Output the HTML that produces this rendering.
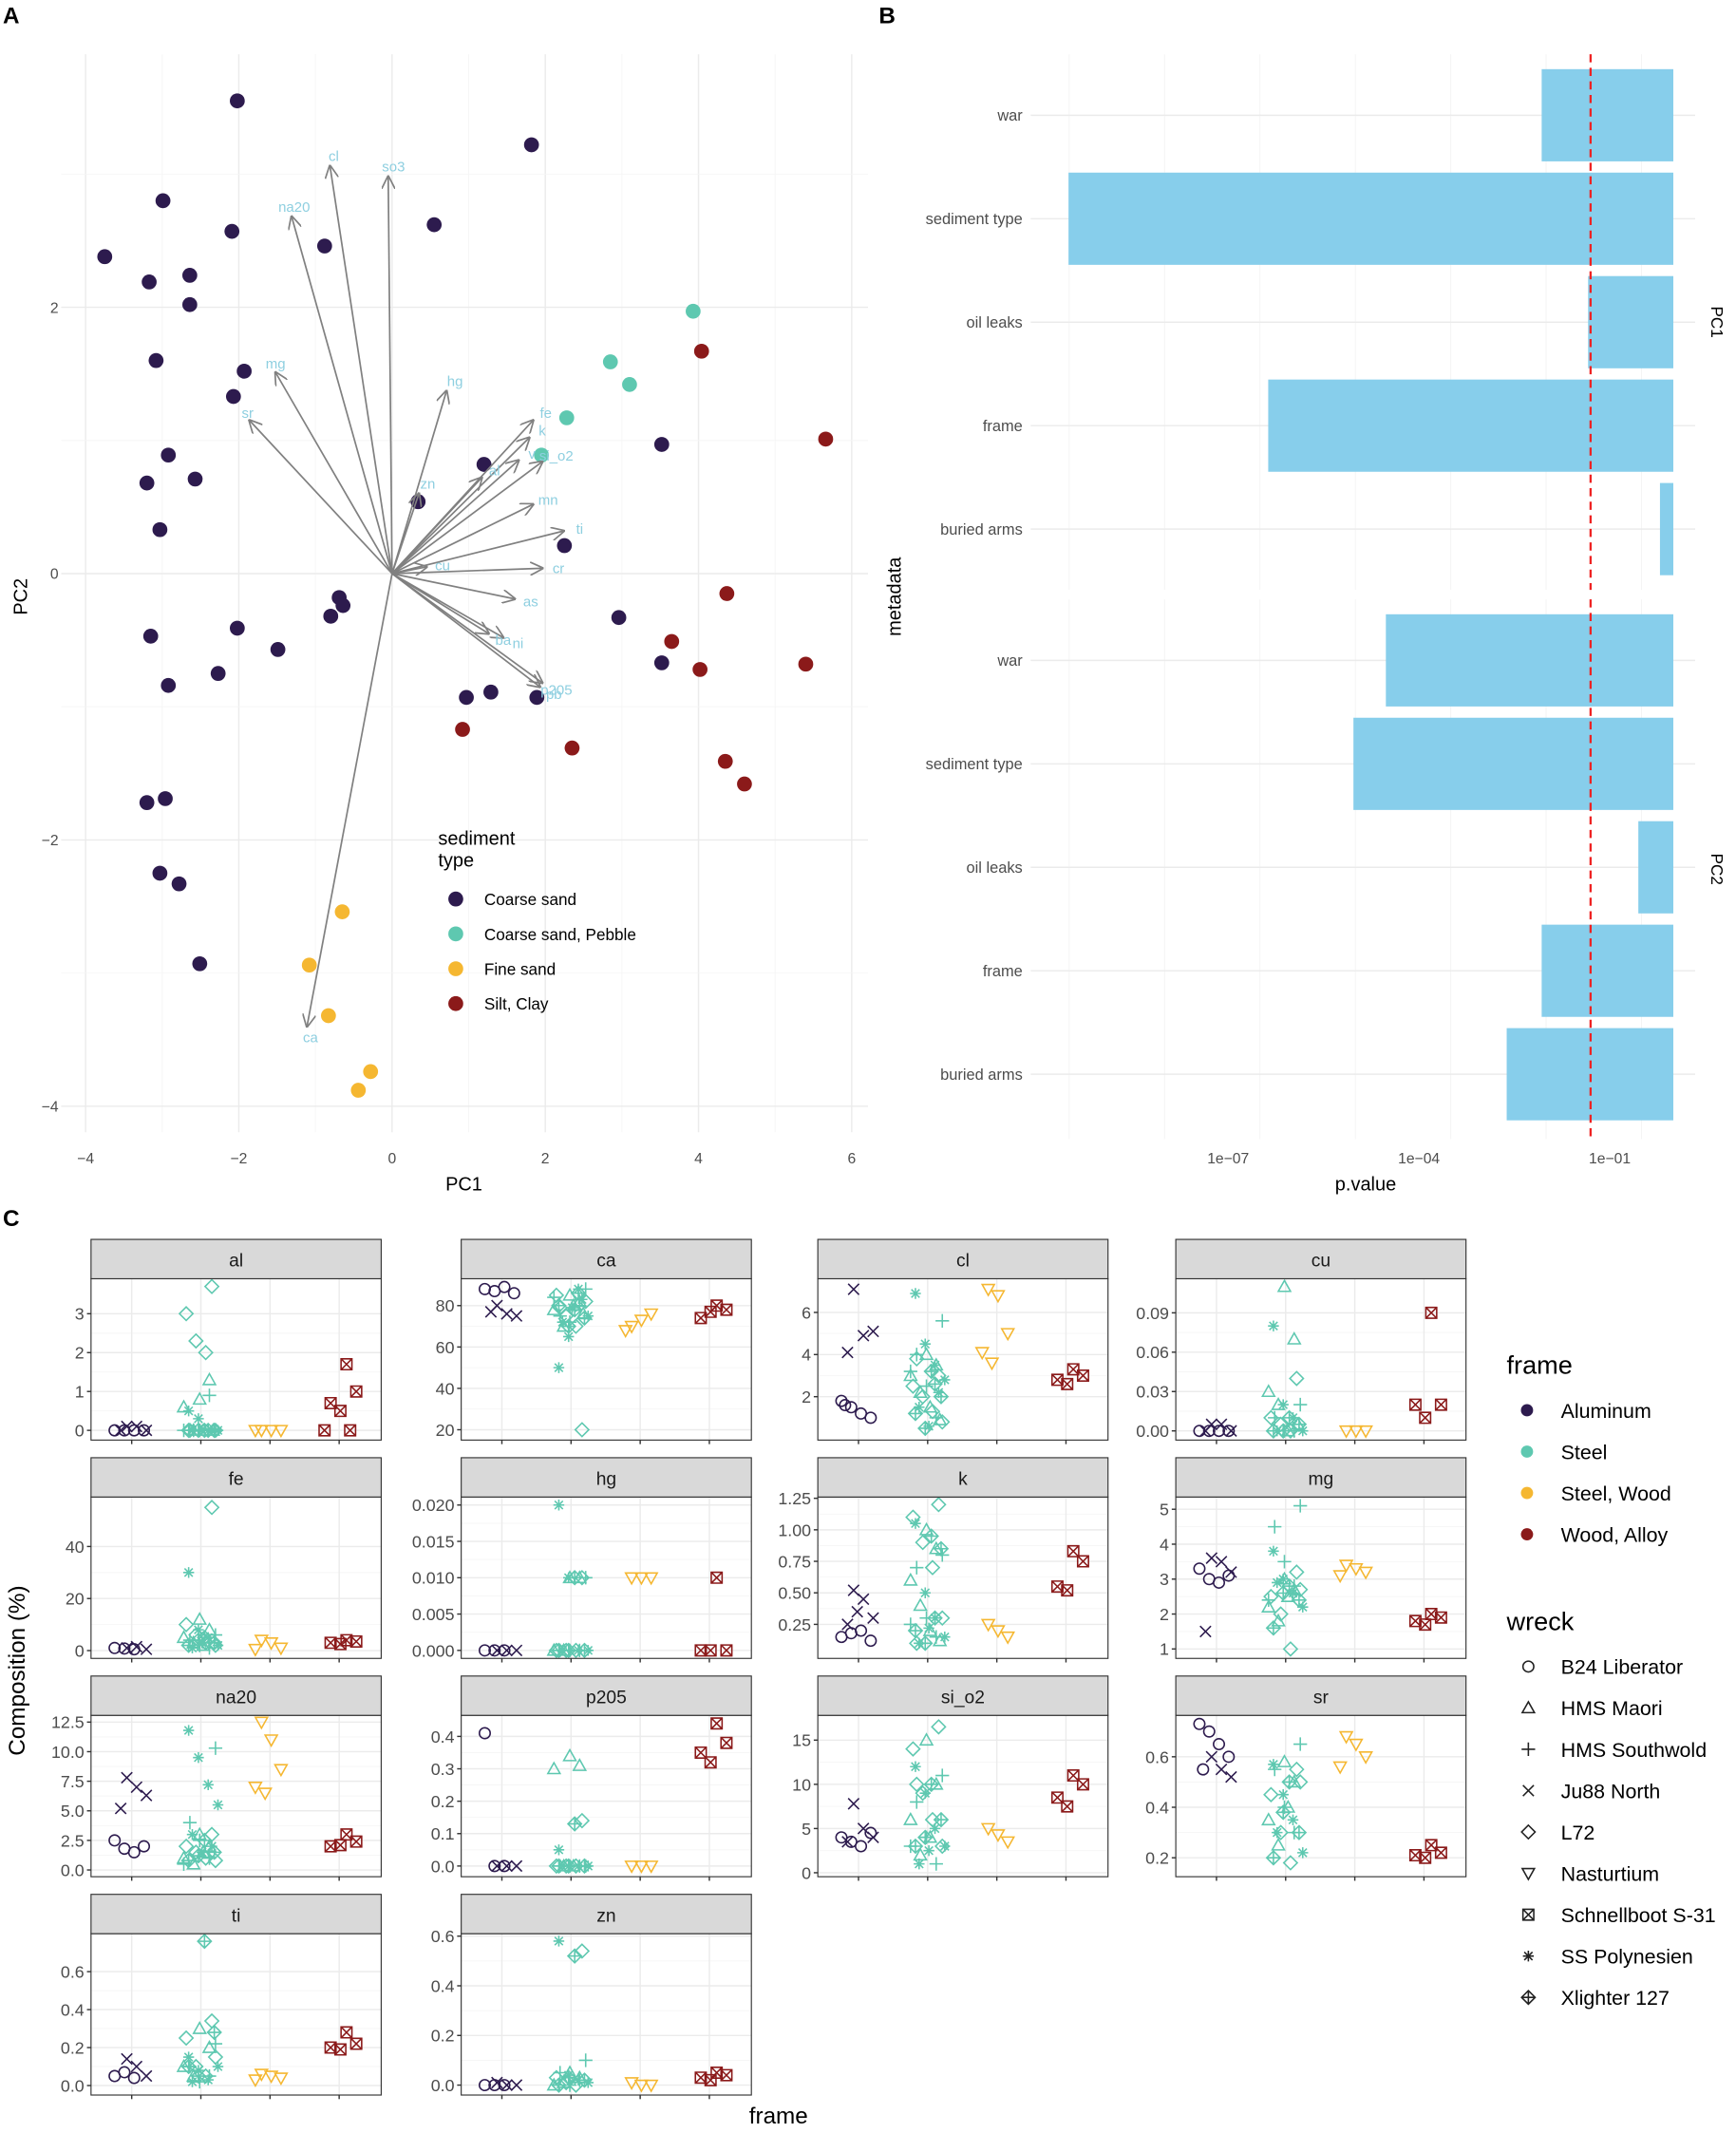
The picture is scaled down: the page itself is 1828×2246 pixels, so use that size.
<!DOCTYPE html>
<html><head><meta charset="utf-8"><style>
html,body{margin:0;padding:0;background:#fff;}
svg{display:block;font-family:"Liberation Sans",sans-serif;}
</style></head><body>
<svg id="fig" width="1828" height="2246" viewBox="0 0 1280 1573" xmlns="http://www.w3.org/2000/svg">
<g id="pA"></g>
<g id="pB"></g>
<g id="pC"></g>
</svg>
<script>
// ---------- Panel A data ----------
const sedimentTypes = ["Coarse sand","Coarse sand, Pebble","Fine sand","Silt, Clay"];
const sedColors = ["#2d1b4e","#5ec8b0","#f5b731","#8b1a1a"];
const pcaX0 = [-2.02,1.82,-2.99,-3.75,0.55,-2.09,-0.88,-3.17,-2.64,-2.64,-3.08,-1.93,-2.07,-2.92,-3.20,-2.57,-3.03,1.20,3.52,0.34,2.25,-0.69,-0.64,-0.80,-2.02,-3.15,-1.49,-2.27,-2.92,2.96,3.52,0.97,1.29,1.89,-3.20,-2.96,-3.03,-2.78,-2.51];
const pcaY0 = [3.55,3.22,2.80,2.38,2.62,2.57,2.46,2.19,2.24,2.02,1.60,1.52,1.33,0.89,0.68,0.71,0.33,0.82,0.97,0.54,0.21,-0.18,-0.24,-0.32,-0.41,-0.47,-0.57,-0.75,-0.84,-0.33,-0.67,-0.93,-0.89,-0.93,-1.72,-1.69,-2.25,-2.33,-2.93];
const pcaX1 = [3.93,2.85,3.10,2.28,1.95];
const pcaY1 = [1.97,1.59,1.42,1.17,0.89];
const pcaX2 = [-0.65,-1.08,-0.83,-0.28,-0.44];
const pcaY2 = [-2.54,-2.94,-3.32,-3.74,-3.88];
const pcaX3 = [4.04,5.66,4.37,3.65,4.02,5.40,0.92,2.35,4.35,4.60];
const pcaY3 = [1.67,1.01,-0.15,-0.51,-0.72,-0.68,-1.17,-1.31,-1.41,-1.58];
const loadNames = ["cl","so3","na20","mg","sr","hg","fe","k","si_o2","zn","al","v","mn","ti","cr","as","ni","ba","p205","pb","ca","cu"];
const loadX = [-0.81,-0.05,-1.31,-1.52,-1.86,0.71,1.84,1.79,1.96,0.35,1.17,1.65,1.84,2.24,1.96,1.60,1.45,1.26,1.96,1.93,-1.11,0.45];
const loadY = [3.06,2.98,2.68,1.51,1.15,1.37,1.15,1.02,0.84,0.60,0.72,0.85,0.52,0.32,0.04,-0.19,-0.48,-0.45,-0.82,-0.85,-3.40,0.05];
const pcaTicksX = [-4,-2,0,2,4,6];
const pcaTicksY = [-4,-2,0,2];

// ---------- Panel B data ----------
const metaCats = ["war","sediment type","oil leaks","frame","buried arms"];
const pc1LogP = [-2.07,-9.51,-1.34,-6.37,-0.21];
const pc2LogP = [-4.52,-5.03,-0.55,-2.07,-2.62];
const pTickVals = [-7,-4,-1];
const pTickLabels = ["1e\u221207","1e\u221204","1e\u221201"];
const alphaLog = -1.301;

// ---------- Panel C data ----------
const frames = ["Aluminum","Steel","Steel, Wood","Wood, Alloy"];
const frameColors = ["#2d1b4e","#5ec8b0","#f5b731","#8b1a1a"];
const wrecks = ["B24 Liberator","HMS Maori","HMS Southwold","Ju88 North","L72","Nasturtium","Schnellboot S-31","SS Polynesien","Xlighter 127"];
const wreckFrame = [0,1,1,0,1,2,3,1,1];
const wreckShape = ["circle","tri","plus","x","diamond","dtri","boxx","star","cplus"];
const elements = ["al","ca","cl","cu","fe","hg","k","mg","na20","p205","si_o2","sr","ti","zn"];
const elemMin = [-0.25,15,-0.06,-0.007,-3,-0.0011,-0.02,0.73,-0.57,-0.033,-0.45,0.125,-0.05,-0.04];
const elemMax = [3.9,93,7.6,0.116,59,0.0211,1.26,5.35,13.07,0.465,17.8,0.764,0.8,0.61];
const elemTicks = [[0,1,2,3],[20,40,60,80],[2,4,6],[0,0.03,0.06,0.09],[0,20,40],[0,0.005,0.01,0.015,0.02],[0.25,0.5,0.75,1,1.25],[1,2,3,4,5],[0,2.5,5,7.5,10,12.5],[0,0.1,0.2,0.3,0.4],[0,5,10,15],[0.2,0.4,0.6],[0,0.2,0.4,0.6],[0,0.2,0.4,0.6]];
const elemTickLabels = [["0","1","2","3"],["20","40","60","80"],["2","4","6"],["0.00","0.03","0.06","0.09"],["0","20","40"],["0.000","0.005","0.010","0.015","0.020"],["0.25","0.50","0.75","1.00","1.25"],["1","2","3","4","5"],["0.0","2.5","5.0","7.5","10.0","12.5"],["0.0","0.1","0.2","0.3","0.4"],["0","5","10","15"],["0.2","0.4","0.6"],["0.0","0.2","0.4","0.6"],["0.0","0.2","0.4","0.6"]];
const comp_al = [[0,0,0,0],[0.8,1.3,0.6,0,0,0],[0,0,0,0.9,0,0],[0.1,0.1,0,0],[3.7,3.0,2.3,2.0,0,0],[0,0,0,0],[1.7,1.0,0.7,0.5,0,0],[0.5,0.3,0,0,0,0,0],[0,0,0,0,0]];
const comp_ca = [[88,87,89,86],[85,82,78,70,80,76],[88,75,72,80,84],[80,76,75,77],[20,85,75,70,82,79],[70,73,76,68],[80,78,74,77],[50,65,88,75,72,79,83],[78,74,80,70,86]];
const comp_cl = [[1.8,1.5,1.2,1.0,1.6],[4.0,3.5,3.0,2.2,1.5,0.9],[5.6,4.0,2.5,1.0,3.2],[7.1,4.9,5.1,4.1],[3.0,2.5,2.0,1.3,0.8,3.8],[7.1,6.8,5.0,4.1,3.6],[3.3,3.0,2.8,2.6],[6.9,4.5,3.5,2.8,1.5,0.6,2.2],[3.2,2.0,1.2,0.5,2.6]];
const comp_cu = [[0,0,0,0],[0.11,0.07,0.03,0.02,0,0.005],[0.02,0.01,0,0],[0.005,0.005,0,0],[0.04,0.01,0.005,0],[0,0,0],[0.09,0.02,0.02,0.01],[0.08,0.02,0.01,0,0],[0.01,0.005,0,0]];
const comp_fe = [[1,0.8,0.5],[12,8,5,3,2],[6,4,2,1],[1,1.5,0.5],[55,10,6,3,2],[4,3,1,0.5],[4,3.5,3,2.5],[30,8,5,2,1,3],[5,3,2,4]];
const comp_hg = [[0,0,0],[0.01,0.01,0,0],[0.01,0,0,0],[0,0,0],[0.01,0,0,0],[0.01,0.01,0.01],[0.01,0,0,0],[0.02,0.01,0,0,0],[0.01,0,0,0]];
const comp_k = [[0.15,0.18,0.2,0.12],[1.0,0.85,0.6,0.4,0.2,0.12],[0.8,0.7,0.3,0.15,0.25],[0.52,0.45,0.3,0.25,0.35],[1.2,1.1,0.9,0.7,0.3,0.1],[0.25,0.2,0.15],[0.83,0.75,0.55,0.52],[1.05,0.5,0.3,0.15,0.1,0.22],[0.95,0.85,0.2,0.1,0.3]];
const comp_mg = [[3.3,3.0,2.9,3.1],[3.0,2.7,2.2,1.8,2.5],[5.1,4.5,3.5,2.8,2.4],[3.6,3.5,3.2,1.5],[3.2,2.5,2.0,1.0,2.7],[3.4,3.3,3.2,3.1],[2.0,1.9,1.8,1.7],[3.8,3.0,2.6,2.2,2.9],[2.8,2.4,1.6,2.6]];
const comp_na20 = [[2.5,1.8,1.5,2.0],[3,2,1,0.5,1.5],[10.3,4,2.5,1,0.5],[7.8,7.0,6.3,5.2],[3,2,1.5,1,0.8],[12.5,11,8.5,7,6.5],[3.0,2.4,2.0,2.1],[11.8,9.5,7.2,5.5,3,1.5,2],[2.5,1.5,0.8,1.2]];
const comp_p205 = [[0.41,0,0],[0.34,0.31,0.3,0,0],[0,0,0,0],[0,0,0],[0.14,0,0,0],[0,0,0],[0.44,0.38,0.35,0.32],[0.05,0,0,0],[0.13,0,0,0]];
const comp_si_o2 = [[4.0,3.5,3.0,4.5],[15,10,6,2,4],[11,8,4,1,3],[7.8,5.0,4.0,3.5],[16.5,14,9,6,3,10],[5,4.3,3.5],[11,10,8.5,7.5],[12,9,5,3,1,2.5],[10,6,3,4]];
const comp_sr = [[0.73,0.7,0.65,0.6,0.55],[0.58,0.5,0.35,0.25,0.4],[0.65,0.55,0.4,0.3],[0.6,0.55,0.52],[0.55,0.45,0.3,0.18,0.5],[0.68,0.65,0.6,0.56],[0.25,0.22,0.21,0.2],[0.57,0.45,0.35,0.22,0.3],[0.5,0.3,0.2,0.38]];
const comp_ti = [[0.05,0.07,0.04],[0.3,0.2,0.1,0.05],[0.22,0.1,0.02,0.05],[0.14,0.1,0.05],[0.34,0.25,0.1,0.05,0.15],[0.06,0.05,0.04,0.03],[0.28,0.22,0.2,0.19],[0.15,0.08,0.03,0.1,0.02],[0.76,0.28,0.1,0.05]];
const comp_zn = [[0,0,0],[0.05,0.03,0,0.01],[0.1,0.05,0,0.02],[0.01,0,0],[0.54,0.03,0.01,0],[0.01,0,0],[0.05,0.04,0.03,0.02],[0.58,0.04,0.02,0.01],[0.52,0.02,0,0.03]];
const compData = [comp_al,comp_ca,comp_cl,comp_cu,comp_fe,comp_hg,comp_k,comp_mg,comp_na20,comp_p205,comp_si_o2,comp_sr,comp_ti,comp_zn];

const NS="http://www.w3.org/2000/svg";
function mk(parent,tag,attrs,txt){const e=document.createElementNS(NS,tag);for(const k in attrs)e.setAttribute(k,attrs[k]);if(txt!==undefined)e.textContent=txt;parent.appendChild(e);return e;}

// ===== Panel A =====
(function(){
const g=document.getElementById('pA');
const xs=v=>289+v*56.5, ys=v=>423-v*98.2;
const L=45,R=640,T=40,B=835;
for(let v=-5;v<=7;v+=1){const x=xs(v);if(x<L||x>R)continue;const l=mk(g,'line',{x1:x,x2:x,y1:T,y2:B,stroke:v%2===0?'#ebebeb':'#f5f5f5','stroke-width':v%2===0?1:0.6});}
for(let v=-5;v<=4;v+=1){const y=ys(v);if(y<T||y>B)continue;const l=mk(g,'line',{x1:L,x2:R,y1:y,y2:y,stroke:v%2===0?'#ebebeb':'#f5f5f5','stroke-width':v%2===0?1:0.6});}
pcaTicksX.forEach(v=>{const t=mk(g,'text',{x:xs(v),y:858,'font-size':11,fill:'#4d4d4d','text-anchor':'middle'},String(v).replace('-','\u2212'));});
pcaTicksY.forEach(v=>{const t=mk(g,'text',{x:43,y:ys(v)+4,'font-size':11,fill:'#4d4d4d','text-anchor':'end'},String(v).replace('-','\u2212'));});
let t=mk(g,'text',{x:342,y:878,'font-size':14,'text-anchor':'middle'},'PC1');
t=mk(g,'text',{x:20,y:440,'font-size':14,'text-anchor':'middle',transform:'rotate(-90 20 440)'},'PC2');
const sets=[[pcaX0,pcaY0],[pcaX1,pcaY1],[pcaX2,pcaY2],[pcaX3,pcaY3]];
sets.forEach((s,k)=>s[0].forEach((x,i)=>{const c=mk(g,'circle',{cx:xs(x),cy:ys(s[1][i]),r:5.5,fill:sedColors[k]});}));
mk(g,'defs',{}).innerHTML='<marker id="ah" markerWidth="10" markerHeight="10" refX="9" refY="5" orient="auto" markerUnits="userSpaceOnUse"><path d="M0,0 L10,5 L0,10" fill="none" stroke="#808080" stroke-width="1.2"/></marker>';
loadNames.forEach((n,i)=>{const x2=xs(loadX[i]),y2=ys(loadY[i]);
const a=mk(g,'line',{x1:xs(0),y1:ys(0),x2:x2,y2:y2,stroke:'#808080','stroke-width':1.2,'marker-end':'url(#ah)'});
const dx=x2-xs(0),dy=y2-ys(0),d=Math.hypot(dx,dy)||1;
const lt=mk(g,'text',{x:x2+dx/d*8+4,y:y2+dy/d*8+4,'font-size':10.5,fill:'#8ecfe0','text-anchor':'middle'},n);});
t=mk(g,'text',{x:323,y:623,'font-size':14},'sediment');
mk(g,'text',{x:323,y:639,'font-size':14},'type');
sedimentTypes.forEach((s,i)=>{const y=663+i*25.7;const c=mk(g,'circle',{cx:336,cy:y,r:5.5,fill:sedColors[i]});
const tt=mk(g,'text',{x:357,y:y+4.5,'font-size':12},s);});
t=mk(g,'text',{x:2,y:17,'font-size':17,'font-weight':'bold'},'A');
})();

// ===== Panel B =====
(function(){
const g=document.getElementById('pB');
const xs=v=>1187+(v+1)*46.9;
const L=760,R=1250;
const panels=[[40,435,pc1LogP,'PC1'],[442,840,pc2LogP,'PC2']];
panels.forEach((p,pi)=>{
 const [T,B,vals,lab]=p;
 for(let v=-11;v<=0;v+=1.5){const x=xs(v);if(x<L-2||x>R)continue;const major=Math.abs((v+1)%3)<0.01;const l=mk(g,'line',{x1:x,x2:x,y1:T,y2:B,stroke:major?'#ebebeb':'#f3f3f3','stroke-width':major?1:0.6});}
 metaCats.forEach((c,i)=>{const y=T+45+i*76.3;
  const l=mk(g,'line',{x1:L,x2:R,y1:y,y2:y,stroke:'#ebebeb'});
  const x0=xs(vals[i]),x1=xs(0);
  const r=mk(g,'rect',{x:x0,y:y-34,width:x1-x0,height:68,fill:'#87ceeb'});
  const tt=mk(g,'text',{x:754,y:y+4,'font-size':11.5,fill:'#4d4d4d','text-anchor':'end'},c);
 });
 const dl=mk(g,'line',{x1:xs(alphaLog),x2:xs(alphaLog),y1:T,y2:B,stroke:'#ee2222','stroke-width':1.6,'stroke-dasharray':'6,4'});
 const st=mk(g,'text',{x:1262,y:(T+B)/2,'font-size':12,'text-anchor':'middle',transform:'rotate(90 1262 '+(T+B)/2+')'},lab);
});
pTickVals.forEach((v,i)=>{const t=mk(g,'text',{x:xs(v),y:858,'font-size':11,fill:'#4d4d4d','text-anchor':'middle'},pTickLabels[i]);});
let t=mk(g,'text',{x:1007,y:878,'font-size':14,'text-anchor':'middle'},'p.value');
t=mk(g,'text',{x:664,y:440,'font-size':14,'text-anchor':'middle',transform:'rotate(-90 664 440)'},'metadata');
t=mk(g,'text',{x:648,y:17,'font-size':17,'font-weight':'bold'},'B');
})();

// ===== Panel C =====
function shape(g,type,x,y,col){
 const s=4, at={fill:'none',stroke:col,'stroke-width':1.1};
 let e;
 const P=(d)=>mk(g,'path',Object.assign({d:d},at));
 switch(type){
  case 'circle': e=mk(g,'circle',Object.assign({cx:x,cy:y,r:s},at));break;
  case 'tri': e=P(`M${x},${y-s-0.5}L${x+s+0.5},${y+s-0.5}L${x-s-0.5},${y+s-0.5}Z`);break;
  case 'dtri': e=P(`M${x},${y+s+0.5}L${x+s+0.5},${y-s+0.5}L${x-s-0.5},${y-s+0.5}Z`);break;
  case 'plus': e=P(`M${x-s-1},${y}H${x+s+1}M${x},${y-s-1}V${y+s+1}`);break;
  case 'x': e=P(`M${x-s},${y-s}L${x+s},${y+s}M${x-s},${y+s}L${x+s},${y-s}`);break;
  case 'diamond': e=P(`M${x},${y-s-1}L${x+s+1},${y}L${x},${y+s+1}L${x-s-1},${y}Z`);break;
  case 'boxx': e=P(`M${x-s},${y-s}H${x+s}V${y+s}H${x-s}ZM${x-s},${y-s}L${x+s},${y+s}M${x-s},${y+s}L${x+s},${y-s}`);break;
  case 'star': e=P(`M${x-s},${y}H${x+s}M${x},${y-s}V${y+s}M${x-s*.75},${y-s*.75}L${x+s*.75},${y+s*.75}M${x-s*.75},${y+s*.75}L${x+s*.75},${y-s*.75}`);break;
  case 'cplus': e=P(`M${x},${y-s-1}L${x+s+1},${y}L${x},${y+s+1}L${x-s-1},${y}ZM${x-s-1},${y}H${x+s+1}M${x},${y-s-1}V${y+s+1}`);break;
 }
 return e;
}
(function(){
const g=document.getElementById('pC');
const colX=[67,340,603,867], rowY=[912,1073,1234,1395], W=214, SH=29, PH=119;
elements.forEach((el,ei)=>{
 const c=ei%4,r=Math.floor(ei/4);const px=colX[c],sy=rowY[r]+2,py=sy+SH;
 const pg=mk(g,'g',{});
 const ys=v=>py+PH-(v-elemMin[ei])/(elemMax[ei]-elemMin[ei])*PH;
 const catX=k=>px+30+k*51;
 mk(pg,'rect',{x:px,y:py,width:W,height:PH,fill:'#fff'});
 elemTicks[ei].forEach((v,ti)=>{const y=ys(v);
  const l=mk(pg,'line',{x1:px,x2:px+W,y1:y,y2:y,stroke:'#ebebeb'});
  if(ti<elemTicks[ei].length-1){const ym=ys((v+elemTicks[ei][ti+1])/2);mk(pg,'line',{x1:px,x2:px+W,y1:ym,y2:ym,stroke:'#f5f5f5','stroke-width':0.6});}
  mk(pg,'line',{x1:px-3,x2:px,y1:y,y2:y,stroke:'#333'});
  const t=mk(pg,'text',{x:px-5,y:y+4.5,'font-size':12.5,fill:'#4d4d4d','text-anchor':'end'},elemTickLabels[ei][ti]);
 });
 for(let k=0;k<4;k++){const x=catX(k);mk(pg,'line',{x1:x,x2:x,y1:py,y2:py+PH,stroke:'#ebebeb'});mk(pg,'line',{x1:x,x2:x,y1:py+PH,y2:py+PH+3,stroke:'#333'});}
 const vals=compData[ei];
 wrecks.forEach((w,wi)=>{vals[wi].forEach((v,i)=>{const jit=((i*37+wi*13)%29)-14;
  const m=shape(pg,wreckShape[wi],catX(wreckFrame[wi])+jit*0.9,ys(v),frameColors[wreckFrame[wi]]);
  
  });});
 mk(pg,'rect',{x:px,y:py,width:W,height:PH,fill:'none',stroke:'#333','stroke-width':0.8});
 const sr=mk(pg,'rect',{x:px,y:sy,width:W,height:SH,fill:'#d9d9d9',stroke:'#333','stroke-width':0.8});
 const st=mk(pg,'text',{x:px+W/2,y:sy+20,'font-size':13.5,fill:'#1a1a1a','text-anchor':'middle'},el);
});
let t=mk(g,'text',{x:574,y:1566,'font-size':17,'text-anchor':'middle'},'frame');
t=mk(g,'text',{x:18,y:1232,'font-size':17,'text-anchor':'middle',transform:'rotate(-90 18 1232)'},'Composition (%)');
t=mk(g,'text',{x:1111,y:1013,'font-size':19},'frame');
frames.forEach((f,i)=>{const y=1040+i*30.5;const c=mk(g,'circle',{cx:1126,cy:y,r:4.5,fill:frameColors[i]});
 const tt=mk(g,'text',{x:1151,y:y+5.5,'font-size':15},f);});
t=mk(g,'text',{x:1111,y:1202,'font-size':19},'wreck');
wrecks.forEach((w,i)=>{const y=1229+i*30.5;const m=shape(g,wreckShape[i],1127,y,'#222');
 const tt=mk(g,'text',{x:1151,y:y+5.5,'font-size':15},w);});
t=mk(g,'text',{x:2,y:904,'font-size':17,'font-weight':'bold'},'C');
})();
</script>
</body></html>
